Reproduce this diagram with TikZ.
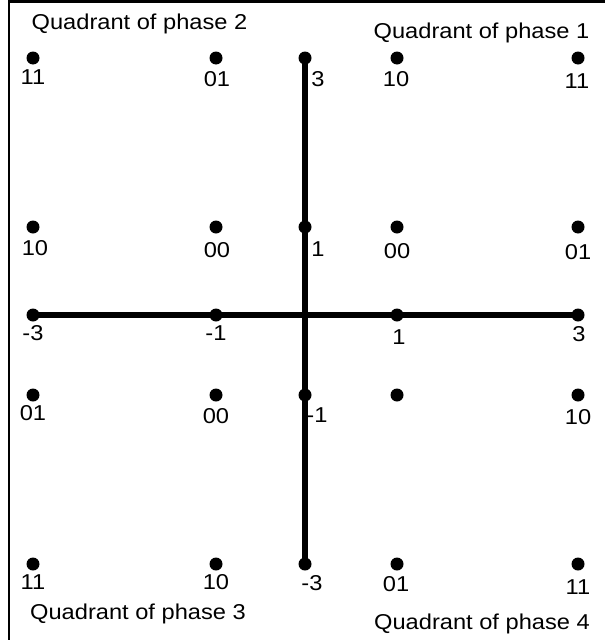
\documentclass[tikz,border=0pt]{standalone}
\usepackage{fontspec}
\setmainfont{Liberation Sans}
\newcommand\sx[1]{\scalebox{1.1}[1]{#1}}
\tikzset{
  dot/.style={circle, fill=black, inner sep=0pt, minimum size=13pt},
  lab/.style={inner sep=0pt, font=\fontsize{21.5}{25}\selectfont},
  quad/.style={inner sep=0pt, anchor=base, font=\fontsize{21.5}{25}\selectfont},
  axisline/.style={line width=6pt},
  frameline/.style={line width=2.8pt}
}
\begin{document}
\begin{tikzpicture}[x=1pt, y=-1pt]
\useasboundingbox (0,0) rectangle (605,640);
% frame (top and left only)
\coordinate (ftl) at (9,1.4);
\coordinate (ftr) at (605,1.4);
\coordinate (fbl) at (9,640);
\draw[frameline] (ftr) -- (ftl) -- (fbl);
% axis dots
\node[dot] (v3) at (305,58) {};
\node[dot] (v1) at (305,227) {};
\node[dot] (vm1) at (305,395) {};
\node[dot] (vm3) at (305,564) {};
\node[dot] (hm3) at (33,315) {};
\node[dot] (hm1) at (216,315) {};
\node[dot] (h1) at (397,315) {};
\node[dot] (h3) at (578,315) {};
\draw[axisline] (hm3.center) -- (h3.center);
\draw[axisline] (v3.center) -- (vm3.center);
% constellation dots
\node[dot] (a1) at (33,58) {};
\node[dot] (a2) at (216,58) {};
\node[dot] (a3) at (397,58) {};
\node[dot] (a4) at (578,58) {};
\node[dot] (b1) at (33,227) {};
\node[dot] (b2) at (216,227) {};
\node[dot] (b3) at (397,227) {};
\node[dot] (b4) at (578,227) {};
\node[dot] (c1) at (33,395) {};
\node[dot] (c2) at (216,395) {};
\node[dot] (c3) at (397,395) {};
\node[dot] (c4) at (578,395) {};
\node[dot] (d1) at (33,564) {};
\node[dot] (d2) at (216,564) {};
\node[dot] (d3) at (397,564) {};
\node[dot] (d4) at (578,564) {};
% labels top row
\node[lab] (la1) at (33,77) {\sx{11}};
\node[lab] (la2) at (217,79) {\sx{01}};
\node[lab] (lv3) at (318,79) {\sx{3}};
\node[lab] (la3) at (396,79) {\sx{10}};
\node[lab] (la4) at (577,81) {\sx{11}};
% row 1
\node[lab] (lb1) at (35,248) {\sx{10}};
\node[lab] (lb2) at (217,250) {\sx{00}};
\node[lab] (lv1) at (318,249) {\sx{1}};
\node[lab] (lb3) at (397,251) {\sx{00}};
\node[lab] (lb4) at (578,252) {\sx{01}};
% axis row
\node[lab] (lhm3) at (33,333) {\sx{-3}};
\node[lab] (lhm1) at (216,333) {\sx{-1}};
\node[lab] (lh1) at (399,337) {\sx{1}};
\node[lab] (lh3) at (579,334) {\sx{3}};
% row -1
\node[lab] (lc1) at (33,413) {\sx{01}};
\node[lab] (lc2) at (216,416) {\sx{00}};
\node[lab] (lvm1) at (317,415) {\sx{-1}};
\node[lab] (lc4) at (578,417) {\sx{10}};
% bottom row
\node[lab] (ld1) at (33,582) {\sx{11}};
\node[lab] (ld2) at (216,582) {\sx{10}};
\node[lab] (lvm3) at (312,583) {\sx{-3}};
\node[lab] (ld3) at (396,584) {\sx{01}};
\node[lab] (ld4) at (578,587) {\sx{11}};
% quadrant captions
\node[quad] (q2) at (139.5,29) {\sx{Quadrant of phase 2}};
\node[quad] (q1) at (481.5,38) {\sx{Quadrant of phase 1}};
\node[quad] (q3) at (138,619) {\sx{Quadrant of phase 3}};
\node[quad] (q4) at (482,629) {\sx{Quadrant of phase 4}};
\end{tikzpicture}
\end{document}
